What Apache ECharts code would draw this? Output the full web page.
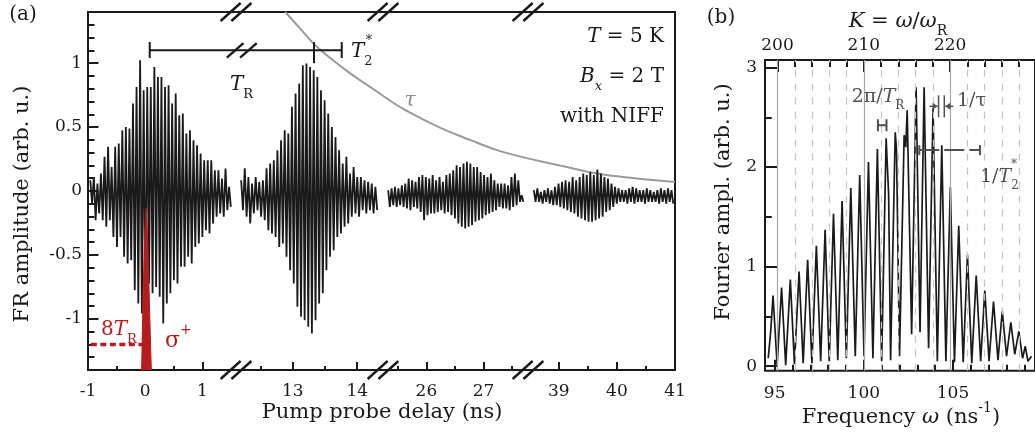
<!DOCTYPE html>
<html><head><meta charset="utf-8">
<script src="https://cdn.jsdelivr.net/npm/echarts@6/dist/echarts.min.js"></script>
<style>html,body{margin:0;padding:0;background:#fff}#c{width:1035px;height:439px}</style>
</head><body><div id="c"></div>
<script>
// ================= DATA =================
// Panel (a): broken delay axis, four segments (ns)
const delayRanges = [[-1.0, 1.59], [12.12, 14.40], [25.24, 27.78], [38.47, 41.0]];
const delayTicksMajor = [[-1, 0, 1], [13, 14], [26, 27], [39, 40, 41]];
const delayTicksMinor = [[-0.5, 0.5], [12.5, 13.5], [25.5, 26.5, 27.5], [39.5, 40.5]];
const ampTicksMajor = [-1, -0.5, 0, 0.5, 1];
const ampTicksMinor = [-1.3,-1.2,-1.1,-0.9,-0.8,-0.7,-0.6,-0.4,-0.3,-0.2,-0.1,0.1,0.2,0.3,0.4,0.6,0.7,0.8,0.9,1.1,1.2,1.3];
// time span covered by the recorded trace in each segment
const sampleSpan = [[-0.96, 1.50], [12.20, 14.31], [25.33, 27.70], [38.57, 40.97]];
// successive oscillation maxima / minima
const seg1Max = [0.084,0.11,0.059,0.137,0.267,0.345,0.188,0.345,0.371,0.475,0.50,0.488,0.684,0.814,1.023,0.788,0.814,0.814,0.97,0.892,0.892,0.814,0.827,0.684,0.762,0.593,0.606,0.45,0.475,0.397,0.358,0.293,0.241,0.241,0.241,0.163,0.163,0.098,0.176,0.032];
const seg1Min = [-0.098,-0.228,-0.176,-0.228,-0.28,-0.228,-0.359,-0.437,-0.359,-0.515,-0.567,-0.541,-0.776,-0.88,-0.958,-0.984,-0.723,-0.80,-0.75,-0.828,-1.036,-0.88,-0.80,-0.697,-0.723,-0.593,-0.593,-0.515,-0.567,-0.437,-0.41,-0.359,-0.306,-0.332,-0.254,-0.202,-0.176,-0.202,-0.15,-0.124];
const seg2Max = [0.084,0.178,0.11,0.059,0.11,0.071,0.084,0.178,0.215,0.241,0.319,0.397,0.475,0.45,0.658,0.762,0.84,0.984,0.997,0.97,0.944,0.892,0.788,0.71,0.606,0.50,0.423,0.319,0.215,0.267,0.137,0.188,0.11,0.11,0.084,0.071,0.059,0.032];
const seg2Min = [-0.15,-0.202,-0.254,-0.176,-0.15,-0.202,-0.228,-0.306,-0.332,-0.359,-0.437,-0.41,-0.515,-0.619,-0.723,-0.906,-0.984,-1.01,-1.062,-1.114,-1.01,-0.88,-0.80,-0.619,-0.515,-0.463,-0.359,-0.332,-0.28,-0.254,-0.202,-0.176,-0.202,-0.15,-0.176,-0.15,-0.176,-0.15];
const seg3Max = [0.006,0.02,0.032,0.02,0.045,0.059,0.098,0.084,0.071,0.11,0.124,0.11,0.098,0.124,0.084,0.11,0.071,0.124,0.137,0.163,0.202,0.188,0.215,0.228,0.215,0.188,0.188,0.149,0.124,0.11,0.137,0.084,0.059,0.059,0.059,0.045,0.11,0.137,0.084,-0.033];
const seg3Min = [-0.124,-0.111,-0.124,-0.111,-0.124,-0.137,-0.15,-0.124,-0.137,-0.163,-0.228,-0.189,-0.176,-0.176,-0.163,-0.15,-0.176,-0.163,-0.189,-0.215,-0.254,-0.28,-0.293,-0.28,-0.267,-0.241,-0.228,-0.215,-0.189,-0.176,-0.163,-0.15,-0.124,-0.137,-0.137,-0.15,-0.124,-0.111,-0.085,-0.085];
const seg4Max = [0.006,0.02,-0.007,0.006,0.02,0.006,0.032,0.059,0.071,0.084,0.071,0.11,0.084,0.11,0.137,0.124,0.149,0.124,0.168,0.137,0.11,0.098,0.059,0.032,0.02,0.006,0.006,0.02,0.032,0.02,0.006,0.006,0.02,0.006,-0.007,0.006,0.02,0.006,0.02,0.006];
const seg4Min = [-0.085,-0.085,-0.098,-0.085,-0.098,-0.111,-0.111,-0.124,-0.137,-0.15,-0.163,-0.176,-0.202,-0.215,-0.228,-0.241,-0.241,-0.228,-0.215,-0.202,-0.163,-0.15,-0.124,-0.098,-0.085,-0.085,-0.098,-0.085,-0.098,-0.085,-0.085,-0.098,-0.085,-0.085,-0.085,-0.098,-0.085,-0.098,-0.085,-0.098];
// decay envelope tau (drawn through segments 2-4)
const tauSeg2 = [[12.884,1.40],[13.116,1.27],[13.318,1.156],[13.581,1.04],[13.891,0.92],[14.124,0.84],[14.403,0.745]];
const tauSeg3 = [[25.237,0.745],[25.64,0.63],[26.237,0.495],[26.763,0.40],[27.237,0.32],[27.781,0.255]];
const tauSeg4 = [[38.466,0.255],[39.017,0.20],[39.655,0.137],[40.31,0.10],[41.0,0.07]];
// pump pulse and markers
const pulse = [[-0.062,-1.4],[-0.044,-1.0],[-0.024,-0.6],[-0.004,-0.3],[0.017,-0.136],[0.038,-0.3],[0.058,-0.6],[0.082,-1.0],[0.108,-1.4]];
const pumpTrainLevel = -1.2, pumpTrainStart = -0.95, pumpTrainEnd = 0.08;
const bracketLevel = 1.10, bracketCap = [1.04, 1.165];
const bracketTRstart = 0.08, bracketTRend = 13.33, bracketT2end = 13.76;

// Panel (b): Fourier spectrum
const omegaTicksMajor = [95, 100, 105];
const omegaTicksMinor = [96,97,98,99,101,102,103,104,106,107,108,109];
const kTicksMajor = [200, 210, 220];
const kTicksMinor = [202,204,206,208,212,214,216,218,222,224,226,228];
const fTicksMajor = [0, 1, 2, 3];
const fTicksMinor = [0.5, 1.5, 2.5];
const specOmega = [94.64,94.78,94.91,95.14,95.39,95.62,95.88,96.11,96.37,96.60,96.85,97.09,97.34,97.58,97.83,98.06,98.30,98.54,98.78,99.02,99.27,99.52,99.77,100.01,100.26,100.51,100.76,101.00,101.25,101.39,101.50,101.76,101.83,102.00,102.26,102.35,102.43,102.68,102.93,103.15,103.38,103.63,103.88,104.12,104.37,104.60,104.85,105.08,105.32,105.57,105.81,106.05,106.30,106.55,106.78,107.02,107.27,107.52,107.76,108.00,108.24,108.46,108.69,108.90,109.05,109.20,109.40];
const specAmp   = [0.08,0.35,0.71,0.01,0.79,0.01,0.87,0.02,0.95,0.03,1.07,0.03,1.21,0.05,1.37,0.05,1.53,0.06,1.66,0.08,1.79,0.10,1.92,0.10,2.05,0.08,2.18,0.05,2.29,1.73,0.06,2.35,2.18,0.10,2.32,2.20,2.57,0.32,2.80,0.34,2.80,0.18,2.59,0.05,2.22,0.05,1.80,0.04,1.41,0.04,1.12,0.03,0.91,0.05,0.76,0.05,0.65,0.06,0.55,0.10,0.44,0.12,0.35,0.08,0.20,0.05,0.10];

// ================= CHART =================
const FONT = '"DejaVu Serif", serif';
const INK = '#1a1a1a', RED = '#b71c1c', GREY = '#9a9a9a', DGREY = '#505050';
const TICK = INK;
const chart = echarts.init(document.getElementById('c'));

const A_TOP = 12, A_H = 358, Y_MIN = -1.4, Y_MAX = 1.4;
const segLeft = [88, 236, 383, 528], segRight = [236, 383, 528, 675];
const B_LEFT = 765, B_TOP = 60, B_W = 280, B_H = 310.7, F_MIN = -0.045, F_MAX = 3.075;
const OMIN = 94.46, OMAX = 94.46 + B_W / 18.5;
const KMIN = 198.55, KMAX = 198.55 + B_W / 8.95;

function wave(span, maxs, mins) {
  const n = maxs.length, h = (span[1] - span[0]) / (2 * n - 1), pts = [];
  for (let i = 0; i < n; i++) {
    pts.push([span[0] + 2 * i * h, maxs[i]]);
    pts.push([span[0] + (2 * i + 1) * h, mins[i]]);
  }
  return pts;
}
const waves = [wave(sampleSpan[0], seg1Max, seg1Min), wave(sampleSpan[1], seg2Max, seg2Min),
               wave(sampleSpan[2], seg3Max, seg3Min), wave(sampleSpan[3], seg4Max, seg4Min)];

const lbl = {fontFamily: FONT, fontSize: 17, color: INK};
const grids = [{left: 88, top: A_TOP, width: 587, height: A_H, show: true, borderColor: INK, borderWidth: 2}];
for (let i = 0; i < 4; i++) grids.push({left: segLeft[i], top: A_TOP, width: segRight[i] - segLeft[i], height: A_H});
grids.push({left: B_LEFT, top: B_TOP, width: B_W, height: B_H, show: true, borderColor: INK, borderWidth: 2});

function labelAxis(base, vals, margin) {
  return Object.assign({
    type: 'value', splitLine: {show: false},
    axisLine: {show: false, onZero: false},
    axisTick: {show: false},
    axisLabel: Object.assign({show: true, customValues: vals, margin: margin, showMinLabel: true, showMaxLabel: true}, lbl)
  }, base);
}
const xAxes = [{gridIndex: 0, type: 'value', min: 0, max: 1, show: false}];
for (let i = 0; i < 4; i++) xAxes.push(labelAxis({gridIndex: i + 1, min: delayRanges[i][0], max: delayRanges[i][1], position: 'bottom'}, delayTicksMajor[i], 13));
xAxes.push(labelAxis({gridIndex: 5, min: OMIN, max: OMAX, position: 'bottom'}, omegaTicksMajor, 14)); // 5
xAxes.push(labelAxis({gridIndex: 5, min: KMIN, max: KMAX, position: 'top'}, kTicksMajor, 6));         // 6

const yAxes = [labelAxis({gridIndex: 0, min: Y_MIN, max: Y_MAX, position: 'left'}, ampTicksMajor, 6)];
for (let i = 0; i < 4; i++) yAxes.push({gridIndex: i + 1, type: 'value', min: Y_MIN, max: Y_MAX, show: false, axisLine: {onZero: false}});
yAxes.push(labelAxis({gridIndex: 5, min: F_MIN, max: F_MAX, position: 'left'}, fTicksMajor, 8)); // 5

const series = [];
function seg(xi, yi, data, style, z, extra) {
  series.push(Object.assign({type: 'line', xAxisIndex: xi, yAxisIndex: yi, data: data, showSymbol: false,
    symbol: 'none', silent: true, animation: false, z: z, lineStyle: style}, extra || {}));
}
// inward tick marks, drawn as markLines in data units of each grid
function tickSeries(xi, yi, segments) {
  series.push({type: 'line', xAxisIndex: xi, yAxisIndex: yi, data: [],
    markLine: {symbol: ['none', 'none'], label: {show: false},
      lineStyle: {color: TICK, width: 2, type: 'solid'},
      data: segments.map(s => [{coord: s[0]}, {coord: s[1]}])}});
}
const yPerPxA = (Y_MAX - Y_MIN) / A_H;
for (let i = 0; i < 4; i++) {
  const segs = [];
  delayTicksMajor[i].filter(v => v !== 0).forEach(v => segs.push([[v, Y_MIN], [v, Y_MIN + 8 * yPerPxA]]));
  delayTicksMinor[i].forEach(v => segs.push([[v, Y_MIN], [v, Y_MIN + 4 * yPerPxA]]));
  tickSeries(i + 1, i + 1, segs);
}
const xPerPx1 = (delayRanges[0][1] - delayRanges[0][0]) / (segRight[0] - segLeft[0]);
tickSeries(1, 1, ampTicksMajor.map(v => [[delayRanges[0][0], v], [delayRanges[0][0] + 10.5 * xPerPx1, v]])
  .concat(ampTicksMinor.map(v => [[delayRanges[0][0], v], [delayRanges[0][0] + 6.5 * xPerPx1, v]])));
const fPerPx = (F_MAX - F_MIN) / B_H, oPerPx = (OMAX - OMIN) / B_W;
tickSeries(5, 5, omegaTicksMajor.map(v => [[v, F_MIN], [v, F_MIN + 11 * fPerPx]])
  .concat(omegaTicksMinor.map(v => [[v, F_MIN], [v, F_MIN + 6 * fPerPx]]))
  .concat(fTicksMajor.map(v => [[OMIN, v], [OMIN + 13 * oPerPx, v]]))
  .concat(fTicksMinor.map(v => [[OMIN, v], [OMIN + 7 * oPerPx, v]])));
tickSeries(6, 5, kTicksMajor.map(v => [[v, F_MAX], [v, F_MAX - 12 * fPerPx]])
  .concat(kTicksMinor.map(v => [[v, F_MAX], [v, F_MAX - 7 * fPerPx]])));

// tau envelope
[tauSeg2, tauSeg3, tauSeg4].forEach((d, k) => seg(k + 2, k + 2, d, {color: GREY, width: 2}, 1, {smooth: 0.4}));
// traces
waves.forEach((d, k) => seg(k + 1, k + 1, d, {color: INK, width: 1.8}, 3));
// T_R / T2* bracket
const bs = {color: INK, width: 2};
seg(1, 1, [[bracketTRstart, bracketLevel], [delayRanges[0][1], bracketLevel]], bs, 4);
seg(1, 1, [[bracketTRstart, bracketCap[0]], [bracketTRstart, bracketCap[1]]], bs, 4);
seg(2, 2, [[delayRanges[1][0], bracketLevel], [bracketT2end, bracketLevel]], bs, 4);
seg(2, 2, [[bracketTRend, bracketCap[0] - 0.04], [bracketTRend, bracketCap[1]]], bs, 4);
seg(2, 2, [[bracketT2end, bracketCap[0]], [bracketT2end, bracketCap[1]]], bs, 4);
// pump train + pulse
seg(1, 1, [[pumpTrainStart, pumpTrainLevel], [pumpTrainEnd, pumpTrainLevel]], {color: RED, width: 3.5, type: [6, 3.5]}, 5);
seg(1, 1, pulse, {color: RED, width: 1}, 12, {areaStyle: {color: RED, opacity: 1, origin: 'start'}});
// panel b grid lines (K axis)
const vLines = [];
for (let k = 200; k <= 228; k += 2) vLines.push({xAxis: k, lineStyle: k % 10 === 0 ? {type: 'solid', color: '#a8a8a8', width: 1.2} : {type: [7, 7], color: '#c4c4c4', width: 1.2}});
series.push({type: 'line', xAxisIndex: 6, yAxisIndex: 5, data: [], silent: true, z: 1, animation: false,
  markLine: {silent: true, symbol: ['none', 'none'], label: {show: false}, animation: false, data: vLines}});
// spectrum
seg(5, 5, specOmega.map((w, i) => [w, specAmp[i]]), {color: INK, width: 1.7}, 3);

chart.setOption({grid: grids, xAxis: xAxes, yAxis: yAxes, series: series});

// ---------- break marks and annotations ----------
const P = (xi, yi, v) => chart.convertToPixel({xAxisIndex: xi, yAxisIndex: yi}, v);
const g = [];
function line(x1, y1, x2, y2, stroke, w, extra) {
  g.push(Object.assign({type: 'line', silent: true, z: 100, shape: {x1, y1, x2, y2}, style: {stroke: stroke || INK, lineWidth: w || 2}}, extra || {}));
}
function slashes(cx, cy, sep, dx, dy, w) {
  line(cx - sep / 2 - dx, cy + dy, cx - sep / 2 + dx, cy - dy, INK, w);
  line(cx + sep / 2 - dx, cy + dy, cx + sep / 2 + dx, cy - dy, INK, w);
}
const yTop = P(1, 1, [0, Y_MAX])[1], yBot = P(1, 1, [0, Y_MIN])[1];
for (let i = 0; i < 3; i++) {
  const bx = P(i + 1, i + 1, [delayRanges[i][1], 0])[0];
  slashes(bx, yTop, 10.8, 10, 9, 2.4);
  slashes(bx, yBot, 10.8, 10, 9, 2.4);
}
const bb = P(2, 2, [12.21, bracketLevel]);
slashes(bb[0], bb[1], 13.3, 8.3, 7.2, 2.4);

function txt(x, y, text, size, color, align, rich, extra) {
  g.push(Object.assign({type: 'text', x: x, y: y, z: 110, silent: true, style: {
    text: text, font: size + 'px ' + FONT, fill: color || INK, textAlign: align || 'center', textVerticalAlign: 'middle', rich: rich || {}
  }}, extra || {}));
}
function R(size, color) {
  return {
    i: {font: 'italic ' + size + 'px ' + FONT, fill: color, lineHeight: size * 1.6},
    n: {font: size + 'px ' + FONT, fill: color, lineHeight: size * 1.6},
    sub: {font: Math.round(size * 0.65) + 'px ' + FONT, fill: color, lineHeight: size * 0.7, verticalAlign: 'bottom'},
    subi: {font: 'italic ' + Math.round(size * 0.65) + 'px ' + FONT, fill: color, lineHeight: size * 0.7, verticalAlign: 'bottom'},
    sup: {font: Math.round(size * 0.65) + 'px ' + FONT, fill: color, lineHeight: size * 0.7, verticalAlign: 'top'}
  };
}
txt(23, 15, '(a)', 20);
txt(721, 18, '(b)', 20);
txt(664, 37, '{i|T}{n| = 5 K}', 20, INK, 'right', R(20, INK));
txt(664, 77, '{i|B}{subi|x}{n| = 2 T}', 20, INK, 'right', R(20, INK));
txt(664, 117, '{n|with NIFF}', 20, INK, 'right', R(20, INK));
txt(410, 101, '{i|τ}', 20, '#8a8a8a', 'center', R(20, '#8a8a8a'));
txt(230, 85, '{i|T}{sub|R}', 20, INK, 'left', R(20, INK));
txt(351, 52, '{i|T}{sub|2}', 20, INK, 'left', R(20, INK));
txt(369, 41, '*', 13, INK, 'center');
txt(101, 330, '{n|8}{i|T}{sub|R}', 20, RED, 'left', R(20, RED));
txt(165, 341, '{n|σ}{sup|+}', 22, RED, 'left', R(22, RED));
txt(382, 413, 'Pump probe delay (ns)', 21);
txt(23, 204, 'FR amplitude (arb. u.)', 21, INK, 'center', null, {rotation: Math.PI / 2});
txt(724, 202, 'Fourier ampl. (arb. u.)', 21, INK, 'center', null, {rotation: Math.PI / 2});
txt(901, 418, '{n|Frequency }{i|ω}{n| (ns}{sup|-1}{n|)}', 21, INK, 'center', R(21, INK));
txt(898, 22, '{i|K}{n| = }{i|ω}{n|/}{i|ω}{sub|R}', 21, INK, 'center', R(21, INK));
txt(878, 97, '{n|2π/}{i|T}{sub|R}', 19, DGREY, 'center', R(19, DGREY));
txt(957, 101, '{n|1/τ}', 19, DGREY, 'left', R(19, DGREY));
txt(980, 177, '{n|1/}{i|T}{sub|2}', 19, DGREY, 'left', R(19, DGREY));
txt(1014, 165, '*', 12, DGREY, 'center');

// panel b annotation marks
const H1 = P(5, 5, [100.79, 2.42]), H2 = P(5, 5, [101.27, 2.42]);
line(H1[0], H1[1], H2[0], H2[1], DGREY, 2);
line(H1[0], H1[1] - 6, H1[0], H1[1] + 6, DGREY, 2);
line(H2[0], H2[1] - 6, H2[0], H2[1] + 6, DGREY, 2);
const t1 = P(5, 5, [104.19, 2.72]), t2 = P(5, 5, [104.51, 2.50]);
line(t1[0], t1[1], t1[0], t2[1], DGREY, 1.5);
line(t2[0], t1[1], t2[0], t2[1], DGREY, 1.5);
const ay = (t1[1] + t2[1]) / 2;
line(t1[0] - 9, ay, t1[0] - 1, ay, DGREY, 1.5);
g.push({type: 'polygon', silent: true, z: 100, shape: {points: [[t1[0] - 1, ay], [t1[0] - 6, ay - 3.5], [t1[0] - 6, ay + 3.5]]}, style: {fill: DGREY}});
line(t2[0] + 1, ay, t2[0] + 9, ay, DGREY, 1.5);
g.push({type: 'polygon', silent: true, z: 100, shape: {points: [[t2[0] + 1, ay], [t2[0] + 6, ay - 3.5], [t2[0] + 6, ay + 3.5]]}, style: {fill: DGREY}});
const s1 = P(5, 5, [103.11, 2.17]), s2 = P(5, 5, [106.51, 2.17]);
line(s1[0], s1[1], s2[0], s2[1], DGREY, 2, {style: {stroke: DGREY, lineWidth: 2, lineDash: [20, 5]}});
line(s1[0], s1[1] - 5, s1[0], s1[1] + 5, DGREY, 2);
line(s2[0], s2[1] - 5, s2[0], s2[1] + 5, DGREY, 2);

chart.setOption({graphic: {elements: g}});
</script>
</body></html>
